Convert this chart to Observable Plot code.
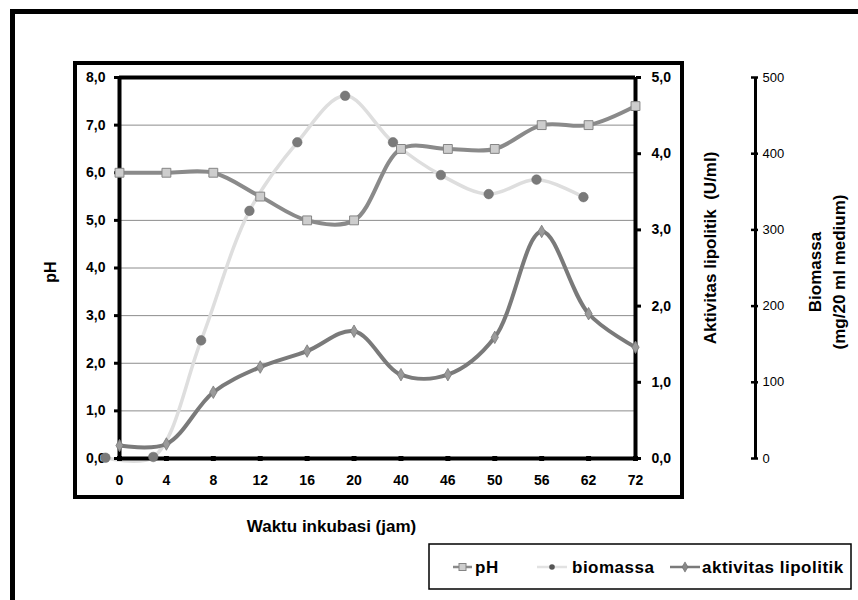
<!DOCTYPE html>
<html>
<head>
<meta charset="utf-8">
<script src="https://cdn.jsdelivr.net/npm/d3@7"></script>
<script src="https://cdn.jsdelivr.net/npm/@observablehq/plot@0.6"></script>
<style>
  html, body { margin: 0; padding: 0; background: #fff; }
  #wrap { position: relative; width: 858px; height: 600px; overflow: hidden; background: #fff;
          font-family: 'Liberation Sans', Arial, sans-serif; }
  #outer { position: absolute; left: 10px; top: 9px; width: 900px; height: 650px;
           border: 5px solid #000; box-sizing: border-box; }
  #inner { position: absolute; left: 73px; top: 61px; width: 611px; height: 438px;
           border: 4px solid #000; box-sizing: border-box; }
  #chart svg { position: absolute; left: 0; top: 0; }
  #legend { position: absolute; left: 0; top: 0; }
</style>
</head>
<body>
<div id="wrap">
  <div id="outer"></div>
  <div id="inner"></div>
  <div id="chart"></div>
  <svg id="legend" width="858" height="600"></svg>
</div>
<script>
// ---- data ----
const categories = ["0", "4", "8", "12", "16", "20", "40", "46", "50", "56", "62", "72"];
const pH = [6.0, 6.0, 6.0, 5.5, 5.0, 5.0, 6.5, 6.5, 6.5, 7.0, 7.0, 7.4];
const aktivitas = [0.17, 0.19, 0.87, 1.2, 1.41, 1.67, 1.1, 1.1, 1.59, 2.98, 1.9, 1.46];
// biomass points sit on their own (shifted) category positions, read in x-index units
const biomassaPos = [-0.3, 0.72, 1.74, 2.77, 3.79, 4.81, 5.83, 6.85, 7.87, 8.89, 9.89];
const biomassa = [1, 2, 155, 325, 415, 476, 415, 372, 347, 366, 343];

const pHTicks = [0, 1, 2, 3, 4, 5, 6, 7, 8];
const aktTicks = [0, 1, 2, 3, 4, 5];
const bioTicks = [0, 100, 200, 300, 400, 500];

const PH_MAX = 8, AKT_MAX = 5, BIO_MAX = 500;
const fmt = v => v.toFixed(1).replace(".", ",");

const idx = categories.map((_, i) => i);
const mainRows = categories.map((c, i) => ({i, pH: pH[i], akt: aktivitas[i]}));
const bioRows = biomassa.map((v, k) => ({pos: biomassaPos[k], v}));
const lastIdx = categories.length - 1;

const bold = {fontWeight: "bold"};

const chart = Plot.plot({
  width: 858,
  height: 600,
  marginLeft: 119,
  marginRight: 223,
  marginTop: 77,
  marginBottom: 142,
  x: {type: "linear", domain: [0, lastIdx]},
  y: {domain: [0, PH_MAX]},
  style: {background: "transparent", fontFamily: "'Liberation Sans', Arial, sans-serif", color: "#000", overflow: "visible"},
  marks: [
    // grid
    Plot.ruleY(pHTicks.filter(v => v > 0 && v < PH_MAX), {stroke: "#8c8c8c", strokeWidth: 1}),
    // biomass curve (under the frame, as in the reference)
    Plot.line(bioRows, {x: "pos", y: d => d.v * PH_MAX / BIO_MAX, curve: "catmull-rom",
      stroke: "#dedede", strokeWidth: 3.5}),
    // plot frame
    Plot.ruleY([0, PH_MAX], {stroke: "#000", strokeWidth: 4}),
    Plot.ruleX([0, lastIdx], {stroke: "#000", strokeWidth: 4}),
    // left pH axis
    Plot.axisY({anchor: "left", ticks: pHTicks, tickFormat: fmt, tickSize: 5, tickPadding: 9,
      fontSize: 14, ...bold, strokeWidth: 3, label: null}),
    // right activity axis
    Plot.axisY({anchor: "right", ticks: aktTicks.map(v => v * PH_MAX / AKT_MAX),
      tickFormat: v => fmt(v * AKT_MAX / PH_MAX), tickSize: 5, tickPadding: 11,
      fontSize: 14, ...bold, strokeWidth: 3, label: null}),
    // bottom category axis
    Plot.axisX({ticks: idx, tickFormat: i => categories[i], tickSize: 0, tickPadding: 17,
      fontSize: 14, ...bold, label: null}),
    Plot.dot(idx, {x: d => d, y: () => 0, symbol: "square", r: 2.8, fill: "#000"}),
    // biomass axis (third axis, right of the plot)
    Plot.ruleX([lastIdx], {dx: 120, stroke: "#000", strokeWidth: 3}),
    Plot.ruleY(bioTicks, {y: v => v * PH_MAX / BIO_MAX, x1: () => lastIdx, x2: () => lastIdx,
      dx: 120, insetLeft: -4, insetRight: -3, stroke: "#000", strokeWidth: 2.5}),
    Plot.text(bioTicks, {x: () => lastIdx, y: v => v * PH_MAX / BIO_MAX, text: v => String(v),
      dx: 127, textAnchor: "start", fontSize: 13}),
    // axis titles
    Plot.text(["pH"], {text: d => d, frameAnchor: "left", textAnchor: "middle", lineAnchor: "middle",
      rotate: -90, dx: -69, dy: 4, fontSize: 16, ...bold}),
    Plot.text(["Aktivitas lipolitik\u00A0\u00A0(U/ml)"], {text: d => d, frameAnchor: "right",
      textAnchor: "middle", lineAnchor: "middle", rotate: -90, dx: 75, dy: -20, fontSize: 17, ...bold}),
    Plot.text(["Biomassa\n(mg/20 ml medium)"], {text: d => d, frameAnchor: "right",
      textAnchor: "middle", lineAnchor: "middle", lineHeight: 1.4, rotate: -90, dx: 190, dy: 4,
      fontSize: 17, ...bold}),
    Plot.text(["Waktu inkubasi (jam)"], {text: d => d, frameAnchor: "bottom", textAnchor: "middle",
      lineAnchor: "middle", dx: -46, dy: 68, fontSize: 17, ...bold}),
    // series
    Plot.line(mainRows, {x: "i", y: "pH", curve: "catmull-rom", stroke: "#8a8a8a", strokeWidth: 4}),
    Plot.line(mainRows, {x: "i", y: d => d.akt * PH_MAX / AKT_MAX, curve: "catmull-rom",
      stroke: "#7a7a7a", strokeWidth: 4}),
    Plot.dot(bioRows, {x: "pos", y: d => d.v * PH_MAX / BIO_MAX, r: 4.8, fill: "#7a7a7a", stroke: "#6a6a6a", strokeWidth: 0.5}),
    Plot.dot(mainRows, {x: "i", y: "pH", symbol: "square", r: 5, fill: "#cdcdcd", stroke: "#858585", strokeWidth: 1}),
    Plot.dot(mainRows, {x: "i", y: d => d.akt * PH_MAX / AKT_MAX, symbol: "diamond", r: 3.8,
      fill: "#9a9a9a", stroke: "#7a7a7a", strokeWidth: 0.8})
  ]
});
document.getElementById("chart").appendChild(chart);

// ---- legend ----
const lg = d3.select("#legend");
lg.append("rect").attr("x", 429).attr("y", 544).attr("width", 422).attr("height", 45)
  .attr("fill", "none").attr("stroke", "#000").attr("stroke-width", 1.5);
const ly = 567;
const items = [
  {label: "pH", x0: 453, x1: 472, tx: 475, stroke: "#8a8a8a", sym: "square"},
  {label: "biomassa", x0: 537, x1: 567, tx: 572, stroke: "#e2e2e2", sym: "circle"},
  {label: "aktivitas lipolitik", x0: 670, x1: 700, tx: 702, stroke: "#7a7a7a", sym: "diamond"}
];
for (const it of items) {
  lg.append("line").attr("x1", it.x0).attr("x2", it.x1).attr("y1", ly).attr("y2", ly)
    .attr("stroke", it.stroke).attr("stroke-width", 2.5);
  const cx = (it.x0 + it.x1) / 2;
  if (it.sym === "square") {
    lg.append("rect").attr("x", cx - 3.5).attr("y", ly - 3.5).attr("width", 7).attr("height", 7)
      .attr("fill", "#cdcdcd").attr("stroke", "#858585");
  } else if (it.sym === "circle") {
    lg.append("circle").attr("cx", cx).attr("cy", ly).attr("r", 2.8).attr("fill", "#555");
  } else {
    lg.append("path").attr("d", d3.symbol(d3.symbolDiamond, 30)()).attr("transform", `translate(${cx},${ly})`)
      .attr("fill", "#888").attr("stroke", "#666").attr("stroke-width", 0.6);
  }
  lg.append("text").attr("x", it.tx).attr("y", ly + 6).text(it.label)
    .attr("font-family", "'Liberation Sans', Arial, sans-serif").attr("font-weight", "bold")
    .attr("font-size", 17).attr("letter-spacing", 0.5).attr("fill", "#000");
}
</script>
</body>
</html>
